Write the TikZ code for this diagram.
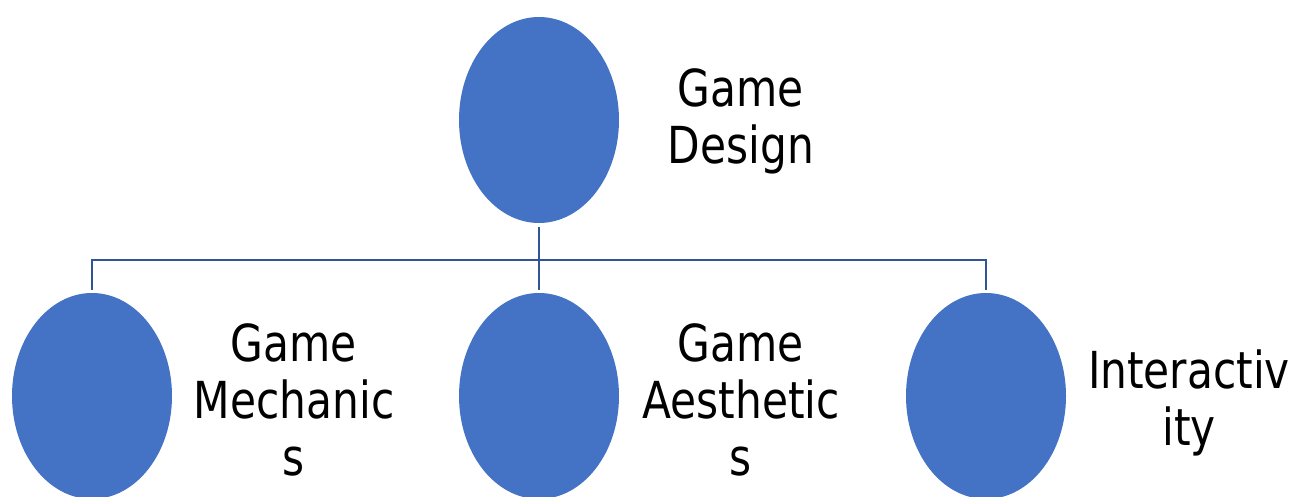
\documentclass[tikz,border=0pt]{standalone}
\usepackage{fontspec}
\usetikzlibrary{shapes.geometric}
\setmainfont{DejaVu Sans}[FakeStretch=0.83]
\definecolor{fillblue}{HTML}{4472C4}
\definecolor{lineblue}{HTML}{2F5597}
\begin{document}
\begin{tikzpicture}[x=1pt,y=-1pt,
  circ/.style={ellipse, fill=fillblue, minimum width=160pt, minimum height=206pt, inner sep=0pt},
  conn/.style={draw=lineblue, line width=2.6pt},
  lab/.style={align=center, font=\fontsize{51}{57}\selectfont, inner sep=0pt, anchor=base}]
\useasboundingbox (0,0) rectangle (1294,497);
\clip (0,0) rectangle (1294,497);
\node[circ] (top) at (539,120) {};
\node[circ] (c1) at (92,396) {};
\node[circ] (c2) at (539,396) {};
\node[circ] (c3) at (986,396) {};
\coordinate (bar) at (539,260);
\draw[conn, shorten <=4pt] (top.south) -- (bar);
\draw[conn, shorten >=3pt] (bar) -| (c1.north);
\draw[conn, shorten >=3pt] (bar) -| (c3.north);
\draw[conn, shorten >=3pt] (bar) -- (c2.north);
\node[lab] (t0) at (741,164) {Game\\Design};
\node[lab] (t1) at (294,475) {Game\\Mechanic\\s};
\node[lab] (t2) at (741,475) {Game\\Aesthetic\\s};
\node[lab] (t3) at (1189,445) {Interactiv\\ity};
\end{tikzpicture}
\end{document}
